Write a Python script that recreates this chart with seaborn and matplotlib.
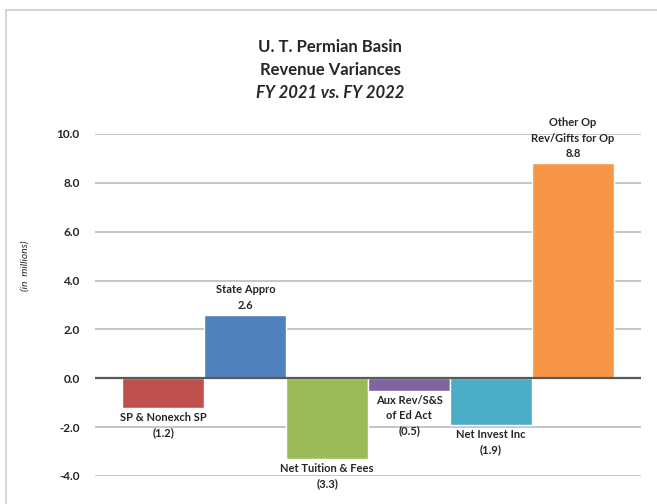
import pandas as pd
import seaborn as sns
import matplotlib.pyplot as plt
from matplotlib.patches import Rectangle

# Chart data
categories = ['SP & Nonexch SP', 'State Appro', 'Net Tuition & Fees',
              'Aux Rev/S&S\nof Ed Act', 'Net Invest Inc', 'Other Op\nRev/Gifts for Op']
variances = [-1.2, 2.6, -3.3, -0.5, -1.9, 8.8]
bar_colors = ['#C0504D', '#4F81BD', '#9BBB59', '#8064A2', '#4BACC6', '#F79646']
y_ticks = [-4.0, -2.0, 0.0, 2.0, 4.0, 6.0, 8.0, 10.0]

df = pd.DataFrame({'category': categories, 'variance': variances})

sns.set_style('white')
plt.rcParams['font.family'] = ['Lato', 'DejaVu Sans']

fig = plt.figure(figsize=(6.57, 5.04), dpi=100)
ax = fig.add_axes([95 / 657, 1 - 476 / 504, (641 - 95) / 657, (476 - 134) / 504])

# outer chart border
fig.patches.append(Rectangle((6 / 657, -0.5), 2, 0.5 + (1 - 10 / 504), transform=fig.transFigure,
                             fill=False, edgecolor='#d0d0d0', linewidth=1.2))

sns.barplot(data=df, x='category', y='variance', hue='category', palette=bar_colors,
            width=1.0, saturation=1, legend=False, ax=ax, zorder=3)

ax.set_ylim(-4, 10)
ax.set_xlim(-0.835, 5.83)
ax.set_yticks(y_ticks)
ax.set_yticklabels([f'{t:.1f}' for t in y_ticks], fontsize=8.5, fontweight='bold')
ax.tick_params(axis='y', length=0, pad=11)
ax.set_xticks([])
ax.set_xlabel('')
ax.set_ylabel('')
for s in ax.spines.values():
    s.set_visible(False)
for t in y_ticks:
    if t == 0:
        ax.axhline(t, color='#595959', linewidth=1.6, zorder=4)
    else:
        ax.axhline(t, color='#c0c0c0', linewidth=1.3, zorder=1)

# bar labels
for i, (cat, val) in enumerate(zip(categories, variances)):
    num = f'{val:.1f}' if val >= 0 else f'({abs(val):.1f})'
    txt = cat + '\n' + num
    if val >= 0:
        ax.annotate(txt, (i, val), xytext=(0, 3), textcoords='offset points',
                    ha='center', va='bottom', fontsize=8, fontweight='bold',
                    linespacing=1.5, annotation_clip=False)
    else:
        ax.annotate(txt, (i, val), xytext=(0, -3), textcoords='offset points',
                    ha='center', va='top', fontsize=8, fontweight='bold',
                    linespacing=1.5, annotation_clip=False)

fig.text(25 / 657, 1 - 266 / 504, '(in  millions)', rotation=90, ha='center', va='center',
         fontsize=7.5, fontstyle='italic')

fig.text(330 / 657, 1 - 47 / 504, 'U. T. Permian Basin', ha='center', va='center',
         fontsize=12, fontweight='bold')
fig.text(330 / 657, 1 - 70 / 504, 'Revenue Variances', ha='center', va='center',
         fontsize=12, fontweight='bold')
fig.text(330 / 657, 1 - 93 / 504, 'FY 2021 vs. FY 2022', ha='center', va='center',
         fontsize=12, fontweight='bold', fontstyle='italic')

fig.savefig('out.png', dpi=100)
